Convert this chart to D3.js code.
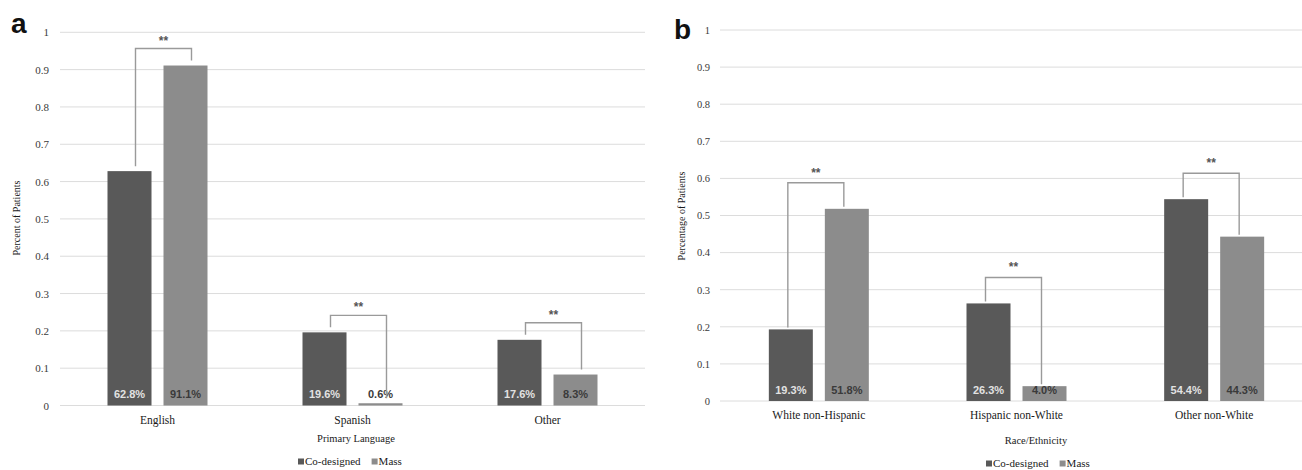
<!DOCTYPE html>
<html><head><meta charset="utf-8">
<script src="https://cdn.jsdelivr.net/npm/d3@7"></script>
<style>
body{margin:0;background:#fff}svg{display:block}
.serif{font-family:"Liberation Serif","Times New Roman",Times,serif}
.sans{font-family:"Liberation Sans",Arial,Helvetica,sans-serif}
</style>
</head><body><svg id="chart" width="1302" height="470"></svg>
<script>
// ---- data ----
const seriesNames = ["Co-designed", "Mass"];
const languageCategories = ["English", "Spanish", "Other"];
const languageCoDesigned = [0.628, 0.196, 0.176];
const languageMass = [0.911, 0.006, 0.083];
const languageLabelsCo = ["62.8%", "19.6%", "17.6%"];
const languageLabelsMass = ["91.1%", "0.6%", "8.3%"];
const raceCategories = ["White non-Hispanic", "Hispanic non-White", "Other non-White"];
const raceCoDesigned = [0.193, 0.263, 0.544];
const raceMass = [0.518, 0.040, 0.443];
const raceLabelsCo = ["19.3%", "26.3%", "54.4%"];
const raceLabelsMass = ["51.8%", "4.0%", "44.3%"];
const yTicks = [0, 0.1, 0.2, 0.3, 0.4, 0.5, 0.6, 0.7, 0.8, 0.9, 1];
const yTickLabels = ["0", "0.1", "0.2", "0.3", "0.4", "0.5", "0.6", "0.7", "0.8", "0.9", "1"];
const languageSignificance = ["**", "**", "**"];
const raceSignificance = ["**", "**", "**"];

const colors = {"Co-designed": "#595959", "Mass": "#8c8c8c"};
const svg = d3.select("#chart");

function panel(cfg) {
  const g = svg.append("g");
  const x = d3.scaleBand().domain(cfg.categories).range([cfg.left, cfg.right]).paddingInner(0).paddingOuter(0);
  const bw = x.bandwidth();
  const xs = d3.scaleBand().domain(seriesNames).range([bw / 2 - 50, bw / 2 + 50]).paddingInner(12 / 56);
  const y = d3.scaleLinear().domain([0, 1]).range([cfg.bottom, cfg.top]);

  g.selectAll("line.grid").data(yTicks).enter().append("line")
    .attr("x1", cfg.left).attr("x2", cfg.gridRight)
    .attr("y1", d => y(d)).attr("y2", d => y(d))
    .attr("stroke", "#dcdcdc").attr("stroke-width", 1);

  const axis = d3.axisLeft(y).tickValues(yTicks).tickFormat((d, i) => yTickLabels[i]).tickSize(0).tickPadding(cfg.tickPad);
  const ag = g.append("g").attr("transform", `translate(${cfg.left},0)`).call(axis);
  ag.attr("font-family", null).attr("font-size", null);
  ag.select(".domain").remove();
  ag.selectAll("text").attr("class", "serif").style("font-size", cfg.tickSize + "px").attr("fill", "#3a3a3a");

  const rows = cfg.categories.map((c, i) => ({
    cat: c,
    vals: [
      {s: "Co-designed", v: cfg.co[i], lab: cfg.labCo[i]},
      {s: "Mass", v: cfg.mass[i], lab: cfg.labMass[i]}
    ],
    sig: cfg.sig[i]
  }));

  const cg = g.selectAll("g.cat").data(rows).enter().append("g")
    .attr("transform", d => `translate(${x(d.cat)},0)`);

  cg.selectAll("rect").data(d => d.vals).enter().append("rect")
    .attr("x", d => xs(d.s)).attr("width", xs.bandwidth())
    .attr("y", d => y(d.v)).attr("height", d => y(0) - y(d.v))
    .attr("fill", d => colors[d.s]);

  cg.selectAll("text.val").data(d => d.vals).enter().append("text")
    .attr("class", "sans")
    .attr("x", d => xs(d.s) + xs.bandwidth() / 2).attr("y", cfg.bottom - 7.5)
    .attr("text-anchor", "middle").style("font-size", "11px").style("font-weight", "bold")
    .attr("fill", d => d.s === "Co-designed" ? "#e2e2e2" : "#3a3a3a")
    .text(d => d.lab);

  cg.append("path")
    .attr("d", d => {
      const xl = xs("Co-designed") + xs.bandwidth() / 2 + cfg.brOff;
      const xr = xs("Mass") + xs.bandwidth() / 2 + cfg.brOff;
      const top = y(Math.max(d.vals[0].v, d.vals[1].v)) - cfg.brRise;
      const yl = Math.max(top + 4, y(d.vals[0].v) - cfg.legGap);
      const yr = Math.max(top + 4, y(d.vals[1].v) - cfg.legGap);
      return `M${xl},${yl}V${top}H${xr}V${yr}`;
    })
    .attr("fill", "none").attr("stroke", "#9a9a9a").attr("stroke-width", 1.4);

  cg.append("text").attr("class", "sans")
    .attr("x", d => (xs("Co-designed") + xs("Mass") + xs.bandwidth()) / 2 + cfg.brOff)
    .attr("y", d => y(Math.max(d.vals[0].v, d.vals[1].v)) - cfg.brRise - cfg.starRise)
    .attr("text-anchor", "middle").style("font-size", "12px").style("font-weight", "bold").attr("fill", "#555")
    .text(d => d.sig);

  g.selectAll("text.cat").data(cfg.categories).enter().append("text")
    .attr("class", "serif")
    .attr("x", d => x(d) + bw / 2).attr("y", cfg.bottom + 18)
    .attr("text-anchor", "middle").style("font-size", "11.5px").attr("fill", "#1a1a1a")
    .text(d => d);

  g.append("text").attr("class", "serif").attr("x", cfg.titleX).attr("y", cfg.titleY)
    .attr("text-anchor", "middle").style("font-size", "10.5px").attr("fill", "#1a1a1a")
    .text(cfg.xTitle);
  g.append("text").attr("class", "serif").attr("transform", `translate(${cfg.yTitleX},${cfg.yTitleY}) rotate(-90)`)
    .attr("text-anchor", "middle").style("font-size", "10px").attr("fill", "#1a1a1a")
    .text(cfg.yTitle);

  const lg = g.append("g").attr("transform", `translate(${cfg.legX},${cfg.legY})`);
  let lx = 0;
  seriesNames.forEach(s => {
    lg.append("rect").attr("x", lx).attr("y", -6.5).attr("width", 6).attr("height", 6).attr("fill", colors[s]);
    const t = lg.append("text").attr("class", "serif").attr("x", lx + 7).attr("y", 0)
      .style("font-size", "11px").attr("fill", "#1a1a1a").text(s);
    lx += 7 + t.node().getComputedTextLength() + 11;
  });

  g.append("text").attr("class", "sans").attr("x", cfg.letterX).attr("y", cfg.letterY)
    .style("font-weight", "bold").style("font-size", "28px").attr("fill", "#111")
    .text(cfg.letter);
}

panel({
  letter: "a", letterX: 11, letterY: 33,
  categories: languageCategories, co: languageCoDesigned, mass: languageMass,
  labCo: languageLabelsCo, labMass: languageLabelsMass, sig: languageSignificance,
  left: 60, right: 645, gridRight: 645, top: 32.3, bottom: 405.5,
  tickPad: 11, tickSize: 11,
  brOff: 6, brRise: 17, legGap: 5, starRise: 4,
  xTitle: "Primary Language", titleX: 356, titleY: 442,
  yTitle: "Percent of Patients", yTitleX: 20, yTitleY: 218,
  legX: 298, legY: 465
});

panel({
  letter: "b", letterX: 674, letterY: 39,
  categories: raceCategories, co: raceCoDesigned, mass: raceMass,
  labCo: raceLabelsCo, labMass: raceLabelsMass, sig: raceSignificance,
  left: 720, right: 1313, gridRight: 1302, top: 30, bottom: 401,
  tickPad: 10, tickSize: 10.5,
  brOff: -3, brRise: 26, legGap: 2, starRise: 6,
  xTitle: "Race/Ethnicity", titleX: 1036, titleY: 444,
  yTitle: "Percentage of Patients", yTitleX: 685, yTitleY: 216,
  legX: 986, legY: 467
});
</script>
</body></html>
